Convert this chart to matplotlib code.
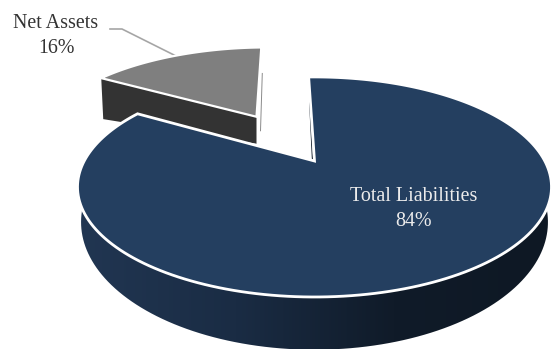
import numpy as np
import matplotlib
matplotlib.use("Agg")
import matplotlib.pyplot as plt
from matplotlib.colors import LinearSegmentedColormap
from matplotlib.patches import Polygon

labels = ["Total Liabilities", "Net Assets"]
shares = [84, 16]
top_colors = ["#243f60", "#7f7f7f"]
explode = [0.0, 0.55]
start_angle = -1.8  # degrees clockwise from 12 o'clock

# perspective of the pie plane, in pixels
apex_x, apex_y = 314.5, 161
persp = 0.236
scale_x, scale_y = 230.3, 103.9
low_y, low_scale = 192, 120.5


def project(u, v):
    d = 1 + persp * v
    return apex_x + scale_x * u / d, apex_y - scale_y * v / d


def project_low(u, v):
    d = 1 + persp * v
    return apex_x + 0.985 * scale_x * u / d, low_y - low_scale * v / d


def wedge(a0, a1, off):
    a = np.radians(np.linspace(a0, a1, 200))
    return off[0] + np.sin(a), off[1] + np.cos(a)


fig = plt.figure(figsize=(5.52, 3.49), dpi=100)
ax = fig.add_axes([0, 0, 1, 1])
ax.set_xlim(0, 552)
ax.set_ylim(349, 0)
ax.axis("off")

ends = start_angle + np.cumsum(shares) * 3.6
starts = np.r_[start_angle, ends[:-1]]

# Net Assets: exploded slice, dark wall first and then the top face
mid = np.radians((starts[1] + ends[1]) / 2)
off = (explode[1] * np.sin(mid), explode[1] * np.cos(mid))
u, v = wedge(starts[1], ends[1], off)
x, y = project(u, v)
ax_, ay_ = project(*off)
wall = [(x[0], y[0]), (ax_, ay_), (ax_, ay_ + 27), (x[0] + 2, y[0] + 41)]
ax.add_patch(Polygon(wall, closed=True, fc="#333333", ec="none", zorder=2))
ax.plot([x[-1] + 1, ax_ + 4], [y[-1] + 26, ay_ + 14], color="#8a8a8a", lw=0.7, zorder=2)
ax.add_patch(Polygon(np.c_[np.r_[ax_, x], np.r_[ay_, y]], closed=True, fc=top_colors[1],
                     ec="white", lw=1.6, joinstyle="miter", zorder=3))

# Total Liabilities: rim with a left to right shade
u, v = wedge(starts[0], ends[0], (0, 0))
x, y = project(u, v)
xl, yl = project_low(u, v)
rim = Polygon(np.c_[np.r_[x, xl[::-1]], np.r_[y, yl[::-1]]], closed=True, fc="none", ec="none")
ax.add_patch(rim)
rim_cmap = LinearSegmentedColormap.from_list("rim", ["#213652", "#1a2c44", "#101b29", "#0e1824"])
im = ax.imshow(np.linspace(0, 1, 256)[None, :], cmap=rim_cmap, extent=(78, 552, 349, 100),
               aspect="auto", zorder=4)
im.set_clip_path(rim)
ax.set_xlim(0, 552)
ax.set_ylim(349, 0)

ax.plot([x[0] + 1, apex_x - 2], [y[0] + 25, apex_y], color="#0e1824", lw=0.8, zorder=4)
ax.add_patch(Polygon(np.c_[np.r_[apex_x, x], np.r_[apex_y, y]], closed=True, fc=top_colors[0],
                     ec="white", lw=2.0, joinstyle="miter", zorder=5))

# labels and leader line
font = ["Liberation Serif", "DejaVu Serif"]
ax.text(413.5, 209, f"{labels[0]}\n{shares[0]}%", color="#ececec", fontsize=14.4, family=font,
        ha="center", va="center", linespacing=1.38, zorder=6)
ax.text(56, 36, f"{labels[1]}\n{shares[1]}%", color="#333333", fontsize=14.4, family=font,
        ha="center", va="center", linespacing=1.38, zorder=6)
ax.plot([110, 122, 176], [29, 29, 56], color="#a6a6a6", lw=1.2, zorder=1)

fig.savefig("out.png", dpi=100)
